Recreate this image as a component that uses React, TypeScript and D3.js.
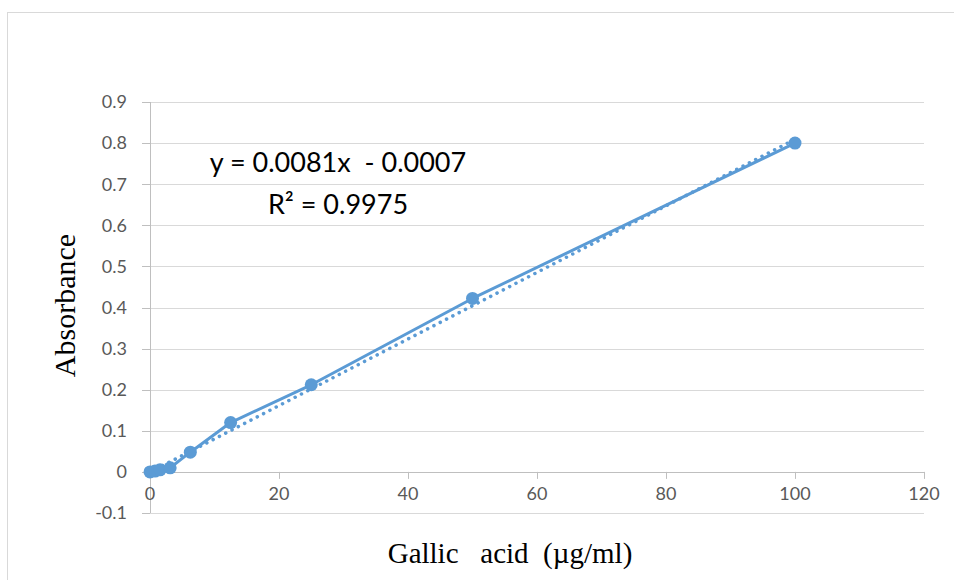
import * as d3 from "d3";

const concentrations = [0, 0.78, 1.56, 3.125, 6.25, 12.5, 25, 50, 100];
const absorbances = [0, 0.002, 0.005, 0.01, 0.048, 0.12, 0.212, 0.422, 0.8];
const xTicks = [0, 20, 40, 60, 80, 100, 120];
const yTicks = [-0.1, 0, 0.1, 0.2, 0.3, 0.4, 0.5, 0.6, 0.7, 0.8, 0.9];
const slope = 0.0081;
const intercept = -0.0007;
const equationText = "y = 0.0081x  - 0.0007";
const r2Text = "R² = 0.9975";

const W = 954;
const H = 580;
const blue = "#5B9BD5";
const labelFont = "Lato, 'Open Sans', sans-serif";
const titleFont = "'Liberation Serif', 'DejaVu Serif', serif";

export default function App() {
  const x = d3.scaleLinear().domain([0, 120]).range([150, 924]);
  const y = d3.scaleLinear().domain([-0.1, 0.9]).range([513, 102]);

  const points = concentrations.map((c, i) => ({ x: c, y: absorbances[i] }));
  const line = d3
    .line<{ x: number; y: number }>()
    .x((d) => x(d.x))
    .y((d) => y(d.y));

  const trend = [0, 100].map((c) => ({ x: c, y: slope * c + intercept }));

  return (
    <svg
      width={W}
      height={H}
      style={{ position: "absolute", left: 0, top: 0, background: "#fff" }}
    >
      {/* chart frame, runs off the page on right/bottom */}
      <rect x={7.5} y={12.5} width={W + 20} height={H + 20} fill="none" stroke="#d9d9d9" strokeWidth={1} />

      {/* gridlines */}
      {yTicks.map((t) => (
        <line
          key={"g" + t}
          x1={x(0)}
          x2={x(120)}
          y1={Math.round(y(t)) + 0.5}
          y2={Math.round(y(t)) + 0.5}
          stroke="#d9d9d9"
          strokeWidth={1}
        />
      ))}

      {/* y axis */}
      <line x1={x(0) + 0.5} x2={x(0) + 0.5} y1={y(0.9)} y2={y(-0.1)} stroke="#bfbfbf" />
      {yTicks.map((t) => (
        <g key={"yt" + t}>
          <line
            x1={x(0) - 8}
            x2={x(0)}
            y1={Math.round(y(t)) + 0.5}
            y2={Math.round(y(t)) + 0.5}
            stroke="#bfbfbf"
          />
          <text
            x={x(0) - 23}
            y={y(t)}
            dy="0.35em"
            textAnchor="end"
            fontFamily={labelFont}
            fontSize={18}
            fill="#595959"
          >
            {String(Math.round(t * 10) / 10)}
          </text>
        </g>
      ))}

      {/* x axis at y = 0 */}
      <line x1={x(0)} x2={x(120)} y1={Math.round(y(0)) + 0.5} y2={Math.round(y(0)) + 0.5} stroke="#bfbfbf" />
      {xTicks.map((t) => (
        <g key={"xt" + t}>
          <line
            x1={Math.round(x(t)) + 0.5}
            x2={Math.round(x(t)) + 0.5}
            y1={y(0)}
            y2={y(0) + 7}
            stroke="#bfbfbf"
          />
          <text
            x={x(t)}
            y={y(-0.05) + 1}
            dy="0.35em"
            textAnchor="middle"
            fontFamily={labelFont}
            fontSize={18}
            fill="#595959"
          >
            {t}
          </text>
        </g>
      ))}

      {/* linear trendline */}
      <path
        d={line(trend) ?? ""}
        fill="none"
        stroke={blue}
        strokeWidth={3.5}
        strokeDasharray="0.1 7"
        strokeLinecap="round"
      />

      {/* data series */}
      <path d={line(points) ?? ""} fill="none" stroke={blue} strokeWidth={3} strokeLinejoin="round" />
      {points.map((p, i) => (
        <circle key={i} cx={x(p.x)} cy={y(p.y)} r={6.5} fill={blue} />
      ))}

      {/* trendline label */}
      <text
        x={338}
        y={163}
        dy="0.35em"
        textAnchor="middle"
        fontFamily={labelFont}
        fontSize={27}
        fill="#000"
        style={{ whiteSpace: "pre" }}
      >
        {equationText}
      </text>
      <text
        x={338}
        y={205}
        dy="0.35em"
        textAnchor="middle"
        fontFamily={labelFont}
        fontSize={27}
        fill="#000"
      >
        {r2Text}
      </text>

      {/* axis titles */}
      <text
        transform={`translate(64, ${y(0.4) - 2}) rotate(-90)`}
        textAnchor="middle"
        dy="0.35em"
        fontFamily={titleFont}
        fontSize={30}
        fill="#000"
      >
        Absorbance
      </text>
      <text
        x={510}
        y={553}
        dy="0.35em"
        textAnchor="middle"
        fontFamily={titleFont}
        fontSize={29}
        fill="#000"
        style={{ whiteSpace: "pre" }}
      >
        {"Gallic   acid  (µg/ml)"}
      </text>
    </svg>
  );
}
